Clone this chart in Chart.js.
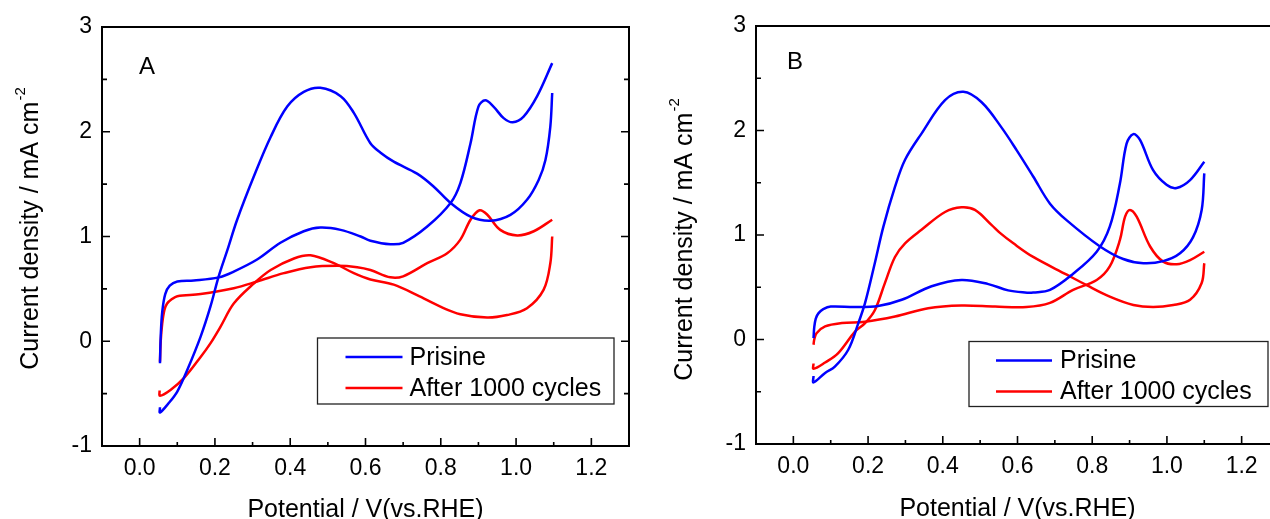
<!DOCTYPE html>
<html>
<head>
<meta charset="utf-8">
<script src="https://cdn.jsdelivr.net/npm/chart.js@4.4.0/dist/chart.umd.min.js"></script>
<style>
    html, body { margin: 0; padding: 0; background: #fff; overflow: hidden; }
    #wrap { position: relative; width: 1270px; height: 519px; overflow: hidden; }
    canvas { position: absolute; top: 0; }
    #chartA { left: 0; }
    #chartB { left: 640px; }
</style>
</head>
<body>
<div id="wrap">
    <canvas id="chartA" width="640" height="519"></canvas>
    <canvas id="chartB" width="650" height="519"></canvas>
</div>
<script>
/* CV curves, two panels (A, B) */

const xMajorTicks = [0.0, 0.2, 0.4, 0.6, 0.8, 1.0, 1.2];
const xMinorTicks = [0.1, 0.3, 0.5, 0.7, 0.9, 1.1];
const yMajorTicks = [-1, 0, 1, 2, 3];
const yMinorTicks = [-0.5, 0.5, 1.5, 2.5];
const seriesLabels = ['Prisine', 'After 1000 cycles'];

// Panel A — Prisine
const aPrisineFwdV = [0.054, 0.056, 0.060, 0.068, 0.080, 0.100, 0.144, 0.210, 0.250, 0.312, 0.374, 0.436, 0.480, 0.534, 0.587, 0.613, 0.666, 0.700, 0.764, 0.826, 0.852, 0.879, 0.900, 0.918, 0.940, 0.967, 0.991, 1.020, 1.056, 1.096];
const aPrisineFwdJ = [-0.21, 0.05, 0.28, 0.45, 0.53, 0.57, 0.58, 0.61, 0.665, 0.78, 0.94, 1.05, 1.085, 1.063, 1.00, 0.96, 0.926, 0.94, 1.095, 1.32, 1.51, 1.89, 2.24, 2.30, 2.24, 2.13, 2.09, 2.145, 2.34, 2.655];
const aPrisineRevV = [1.096, 1.091, 1.078, 1.060, 1.029, 0.985, 0.932, 0.879, 0.826, 0.780, 0.737, 0.675, 0.640, 0.613, 0.569, 0.534, 0.480, 0.436, 0.392, 0.348, 0.303, 0.259, 0.233, 0.210, 0.188, 0.162, 0.127, 0.100, 0.075, 0.054, 0.054];
const aPrisineRevJ = [2.37, 2.05, 1.73, 1.54, 1.35, 1.206, 1.15, 1.19, 1.32, 1.48, 1.60, 1.715, 1.80, 1.89, 2.18, 2.34, 2.42, 2.38, 2.24, 1.95, 1.57, 1.16, 0.87, 0.62, 0.33, 0.044, -0.27, -0.48, -0.60, -0.68, -0.63];

// Panel A — after 1000 cycles
const aCycledFwdV = [0.054, 0.056, 0.060, 0.066, 0.073, 0.085, 0.100, 0.162, 0.250, 0.312, 0.383, 0.454, 0.525, 0.578, 0.613, 0.666, 0.700, 0.764, 0.817, 0.852, 0.879, 0.903, 0.923, 0.958, 1.003, 1.047, 1.096];
const aCycledFwdJ = [-0.195, 0.0, 0.17, 0.30, 0.36, 0.40, 0.43, 0.45, 0.506, 0.57, 0.65, 0.707, 0.72, 0.707, 0.68, 0.61, 0.62, 0.745, 0.84, 0.97, 1.16, 1.25, 1.21, 1.063, 1.01, 1.05, 1.16];
const aCycledRevV = [1.096, 1.091, 1.073, 1.029, 0.976, 0.923, 0.852, 0.799, 0.737, 0.675, 0.613, 0.569, 0.516, 0.454, 0.410, 0.348, 0.303, 0.250, 0.215, 0.188, 0.162, 0.118, 0.082, 0.054, 0.053];
const aCycledRevJ = [1.0, 0.745, 0.49, 0.315, 0.25, 0.226, 0.258, 0.33, 0.44, 0.54, 0.59, 0.65, 0.745, 0.82, 0.79, 0.68, 0.55, 0.36, 0.14, -0.02, -0.15, -0.35, -0.465, -0.52, -0.47];

// Panel B — Prisine
const bPrisineFwdV = [0.054, 0.056, 0.060, 0.067, 0.080, 0.100, 0.165, 0.227, 0.290, 0.370, 0.450, 0.522, 0.575, 0.620, 0.642, 0.687, 0.749, 0.812, 0.847, 0.874, 0.892, 0.910, 0.928, 0.963, 0.999, 1.026, 1.062, 1.100];
const bPrisineFwdJ = [0.013, 0.12, 0.20, 0.25, 0.29, 0.315, 0.31, 0.32, 0.38, 0.51, 0.57, 0.53, 0.47, 0.45, 0.45, 0.475, 0.63, 0.84, 1.08, 1.49, 1.875, 1.965, 1.91, 1.62, 1.48, 1.45, 1.525, 1.70];
const bPrisineRevV = [1.100, 1.093, 1.070, 1.035, 0.990, 0.937, 0.883, 0.821, 0.732, 0.687, 0.642, 0.598, 0.557, 0.504, 0.455, 0.406, 0.343, 0.299, 0.272, 0.241, 0.218, 0.192, 0.174, 0.147, 0.111, 0.085, 0.054, 0.054];
const bPrisineRevJ = [1.59, 1.24, 0.98, 0.825, 0.75, 0.73, 0.77, 0.89, 1.14, 1.30, 1.56, 1.81, 2.03, 2.27, 2.37, 2.29, 1.97, 1.72, 1.46, 1.08, 0.73, 0.35, 0.157, -0.098, -0.26, -0.32, -0.41, -0.35];

// Panel B — after 1000 cycles
const bCycledFwdV = [0.054, 0.056, 0.062, 0.085, 0.130, 0.192, 0.272, 0.361, 0.450, 0.540, 0.624, 0.687, 0.749, 0.812, 0.847, 0.874, 0.888, 0.901, 0.919, 0.955, 0.990, 1.026, 1.062, 1.100];
const bCycledFwdJ = [-0.05, 0.0, 0.06, 0.125, 0.157, 0.17, 0.22, 0.30, 0.325, 0.315, 0.31, 0.35, 0.475, 0.57, 0.70, 0.95, 1.175, 1.24, 1.175, 0.89, 0.745, 0.72, 0.76, 0.84];
const bCycledRevV = [1.100, 1.093, 1.062, 1.017, 0.963, 0.910, 0.847, 0.785, 0.732, 0.642, 0.589, 0.553, 0.531, 0.486, 0.450, 0.406, 0.343, 0.299, 0.272, 0.245, 0.218, 0.192, 0.165, 0.120, 0.085, 0.054, 0.054];
const bCycledRevJ = [0.73, 0.54, 0.38, 0.33, 0.31, 0.33, 0.41, 0.52, 0.62, 0.79, 0.92, 1.02, 1.095, 1.24, 1.265, 1.22, 1.05, 0.92, 0.79, 0.54, 0.28, 0.157, 0.076, -0.13, -0.22, -0.28, -0.23];

const BLUE = '#0000ff';
const RED = '#ff0000';
const FONT = "'Liberation Sans', Arial, sans-serif";

function toPoints(vs, js) {
    return vs.map((v, i) => ({ x: v, y: js[i] }));
}

function branch(vs, js, color) {
    return {
        data: toPoints(vs, js),
        showLine: true,
        borderColor: color,
        borderWidth: 2.5,
        pointRadius: 0,
        tension: 0.35,
        fill: false
    };
}

const panelDecor = {
    id: 'panelDecor',
    afterDraw(chart, _args, opts) {
        const { ctx, chartArea: a, scales: { x, y } } = chart;
        ctx.save();

        // frame
        ctx.strokeStyle = '#000';
        ctx.lineWidth = 2;
        ctx.strokeRect(a.left, a.top, a.right - a.left, a.bottom - a.top);

        // inward ticks: bottom, left, right
        ctx.lineWidth = 1.6;
        ctx.beginPath();
        xMajorTicks.forEach((v) => {
            const px = x.getPixelForValue(v);
            ctx.moveTo(px, a.bottom); ctx.lineTo(px, a.bottom - 8);
        });
        xMinorTicks.forEach((v) => {
            const px = x.getPixelForValue(v);
            ctx.moveTo(px, a.bottom); ctx.lineTo(px, a.bottom - 4);
        });
        yMajorTicks.forEach((v) => {
            const py = y.getPixelForValue(v);
            ctx.moveTo(a.left, py); ctx.lineTo(a.left + 8, py);
            ctx.moveTo(a.right, py); ctx.lineTo(a.right - 8, py);
        });
        yMinorTicks.forEach((v) => {
            const py = y.getPixelForValue(v);
            ctx.moveTo(a.left, py); ctx.lineTo(a.left + 5, py);
            ctx.moveTo(a.right, py); ctx.lineTo(a.right - 5, py);
        });
        ctx.stroke();

        ctx.fillStyle = '#000';

        // panel letter
        ctx.font = `24px ${FONT}`;
        ctx.textAlign = 'left';
        ctx.textBaseline = 'alphabetic';
        ctx.fillText(opts.letter, opts.letterX, opts.letterY);

        // x title
        ctx.font = `25px ${FONT}`;
        ctx.textAlign = 'center';
        ctx.fillText('Potential / V(vs.RHE)', (a.left + a.right) / 2, opts.xTitleY);

        // y title with superscript
        const main = 'Current density / mA cm';
        const sup = '-2';
        ctx.font = `25px ${FONT}`;
        const wMain = ctx.measureText(main).width;
        ctx.font = `15px ${FONT}`;
        const wSup = ctx.measureText(sup).width;
        const total = wMain + wSup;
        ctx.translate(opts.yTitleX, opts.yTitleY);
        ctx.rotate(-Math.PI / 2);
        ctx.textAlign = 'left';
        ctx.font = `25px ${FONT}`;
        ctx.fillText(main, -total / 2, 0);
        ctx.font = `15px ${FONT}`;
        ctx.fillText(sup, -total / 2 + wMain + 1, -13);
        ctx.setTransform(1, 0, 0, 1, 0, 0);

        // legend box
        const lg = opts.legend;
        ctx.strokeStyle = '#222';
        ctx.lineWidth = 1.3;
        ctx.strokeRect(lg.x, lg.y, lg.w, lg.h);
        ctx.font = `25px ${FONT}`;
        ctx.textAlign = 'left';
        ctx.textBaseline = 'middle';
        [BLUE, RED].forEach((color, i) => {
            const rowY = lg.y + lg.rowStart + i * lg.rowGap;
            ctx.strokeStyle = color;
            ctx.lineWidth = 2.5;
            ctx.beginPath();
            ctx.moveTo(lg.x + lg.lineX0, rowY);
            ctx.lineTo(lg.x + lg.lineX1, rowY);
            ctx.stroke();
            ctx.fillStyle = '#000';
            ctx.fillText(seriesLabels[i], lg.x + lg.textX, rowY + 1);
        });

        ctx.restore();
    }
};

function makeChart(canvasId, datasets, cfg) {
    const tickFont = { family: FONT, size: 23 };
    return new Chart(document.getElementById(canvasId), {
        type: 'scatter',
        data: { datasets },
        options: {
            responsive: false,
            animation: false,
            events: [],
            layout: { padding: { top: cfg.top, right: cfg.padRight, bottom: 0, left: 0 } },
            plugins: {
                legend: { display: false },
                tooltip: { enabled: false },
                panelDecor: cfg
            },
            scales: {
                x: {
                    type: 'linear',
                    min: -0.1,
                    max: 1.3,
                    afterBuildTicks: (s) => { s.ticks = xMajorTicks.map((v) => ({ value: v })); },
                    afterFit: (s) => { s.height = cfg.xAxisHeight; },
                    grid: { display: false, drawTicks: false },
                    border: { display: false },
                    ticks: {
                        autoSkip: false,
                        maxRotation: 0,
                        padding: 9,
                        color: '#000',
                        font: tickFont,
                        callback: (v) => Number(v).toFixed(1)
                    }
                },
                y: {
                    type: 'linear',
                    min: -1,
                    max: 3,
                    afterBuildTicks: (s) => { s.ticks = yMajorTicks.map((v) => ({ value: v })); },
                    afterFit: (s) => { s.width = cfg.yAxisWidth; },
                    grid: { display: false, drawTicks: false },
                    border: { display: false },
                    ticks: {
                        autoSkip: false,
                        padding: 10,
                        color: '#000',
                        font: tickFont,
                        callback: (v) => String(v)
                    }
                }
            }
        },
        plugins: [panelDecor]
    });
}

makeChart('chartA', [
    branch(aPrisineFwdV, aPrisineFwdJ, BLUE),
    branch(aPrisineRevV, aPrisineRevJ, BLUE),
    branch(aCycledFwdV, aCycledFwdJ, RED),
    branch(aCycledRevV, aCycledRevJ, RED)
], {
    top: 27, padRight: 11, xAxisHeight: 73, yAxisWidth: 102,
    letter: 'A', letterX: 139, letterY: 74,
    xTitleY: 517, yTitleX: 38, yTitleY: 229,
    legend: { x: 317.5, y: 338, w: 296.5, h: 66, rowStart: 19, rowGap: 31, lineX0: 28, lineX1: 85, textX: 92 }
});

makeChart('chartB', [
    branch(bPrisineFwdV, bPrisineFwdJ, BLUE),
    branch(bPrisineRevV, bPrisineRevJ, BLUE),
    branch(bCycledFwdV, bCycledFwdJ, RED),
    branch(bCycledRevV, bCycledRevJ, RED)
], {
    top: 26, padRight: 11, xAxisHeight: 75, yAxisWidth: 116,
    letter: 'B', letterX: 147, letterY: 69,
    xTitleY: 516, yTitleX: 52, yTitleY: 240,
    legend: { x: 329, y: 341.5, w: 299, h: 65, rowStart: 19, rowGap: 31, lineX0: 27, lineX1: 83, textX: 91 }
});
</script>
</body>
</html>
